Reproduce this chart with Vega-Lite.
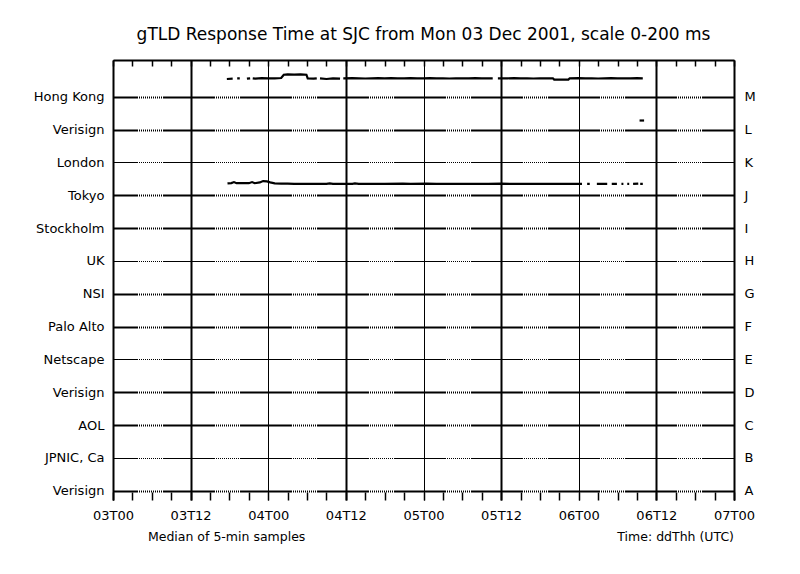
{
  "$schema": "https://vega.github.io/schema/vega-lite/v6.json",
  "width": 621,
  "height": 440,
  "autosize": {"type": "none"},
  "padding": {"left": 113, "top": 60, "right": 66, "bottom": 74},
  "background": "white",
  "title": {"text": "gTLD Response Time at SJC from Mon 03 Dec 2001, scale 0-200 ms", "font": "DejaVu Sans", "fontSize": 17, "fontWeight": "normal", "color": "black", "anchor": "middle", "baseline": "alphabetic", "offset": 2},
  "config": {
    "view": {"stroke": null},
    "axis": {"labelFont": "DejaVu Sans", "labelColor": "black", "domainColor": "black", "tickColor": "black", "gridColor": "black", "gridOpacity": 1}
  },
  "data": {"values": [
    {"code": "M", "hour": 17.6, "ms": 108}, {"code": "M", "hour": 18.5, "ms": 110}, {"code": "M", "hour": 18.9, "ms": null},
    {"code": "M", "hour": 19.2, "ms": 112}, {"code": "M", "hour": 19.6, "ms": 112}, {"code": "M", "hour": 20.0, "ms": null},
    {"code": "M", "hour": 20.7, "ms": 110}, {"code": "M", "hour": 21.2, "ms": 112}, {"code": "M", "hour": 21.4, "ms": null},
    {"code": "M", "hour": 21.6, "ms": 112}, {"code": "M", "hour": 22, "ms": 110}, {"code": "M", "hour": 23, "ms": 113},
    {"code": "M", "hour": 24, "ms": 112}, {"code": "M", "hour": 25, "ms": 112}, {"code": "M", "hour": 26, "ms": 114},
    {"code": "M", "hour": 26.4, "ms": 134}, {"code": "M", "hour": 27, "ms": 136}, {"code": "M", "hour": 28, "ms": 135},
    {"code": "M", "hour": 29, "ms": 136}, {"code": "M", "hour": 29.9, "ms": 134}, {"code": "M", "hour": 30.1, "ms": 112},
    {"code": "M", "hour": 31, "ms": 110}, {"code": "M", "hour": 31.5, "ms": 112}, {"code": "M", "hour": 31.8, "ms": null},
    {"code": "M", "hour": 32, "ms": 112}, {"code": "M", "hour": 33, "ms": 108}, {"code": "M", "hour": 34, "ms": 112},
    {"code": "M", "hour": 35.1, "ms": 110}, {"code": "M", "hour": 35.3, "ms": null}, {"code": "M", "hour": 35.6, "ms": 112},
    {"code": "M", "hour": 37, "ms": 113}, {"code": "M", "hour": 38, "ms": 112}, {"code": "M", "hour": 39, "ms": 111},
    {"code": "M", "hour": 40, "ms": 112}, {"code": "M", "hour": 41, "ms": 113}, {"code": "M", "hour": 42, "ms": 112},
    {"code": "M", "hour": 43, "ms": 113}, {"code": "M", "hour": 44, "ms": 112}, {"code": "M", "hour": 45, "ms": 112},
    {"code": "M", "hour": 46, "ms": 113}, {"code": "M", "hour": 47, "ms": 112}, {"code": "M", "hour": 48, "ms": 112},
    {"code": "M", "hour": 49, "ms": 113}, {"code": "M", "hour": 50, "ms": 112}, {"code": "M", "hour": 51, "ms": 112},
    {"code": "M", "hour": 52, "ms": 111}, {"code": "M", "hour": 53, "ms": 112}, {"code": "M", "hour": 54, "ms": 112},
    {"code": "M", "hour": 55, "ms": 112}, {"code": "M", "hour": 56, "ms": 113}, {"code": "M", "hour": 57, "ms": 112},
    {"code": "M", "hour": 58.7, "ms": 112}, {"code": "M", "hour": 59.0, "ms": null}, {"code": "M", "hour": 59.5, "ms": 112},
    {"code": "M", "hour": 61, "ms": 112}, {"code": "M", "hour": 62, "ms": 113}, {"code": "M", "hour": 63, "ms": 112},
    {"code": "M", "hour": 64, "ms": 112}, {"code": "M", "hour": 65, "ms": 111}, {"code": "M", "hour": 66, "ms": 112},
    {"code": "M", "hour": 67, "ms": 112}, {"code": "M", "hour": 68, "ms": 112}, {"code": "M", "hour": 68.2, "ms": 104},
    {"code": "M", "hour": 70.4, "ms": 104}, {"code": "M", "hour": 70.6, "ms": 112}, {"code": "M", "hour": 72, "ms": 113},
    {"code": "M", "hour": 73, "ms": 112}, {"code": "M", "hour": 74, "ms": 112}, {"code": "M", "hour": 75, "ms": 111},
    {"code": "M", "hour": 76, "ms": 112}, {"code": "M", "hour": 77, "ms": 113}, {"code": "M", "hour": 78, "ms": 112},
    {"code": "M", "hour": 79, "ms": 112}, {"code": "M", "hour": 80, "ms": 112}, {"code": "M", "hour": 81, "ms": 113},
    {"code": "M", "hour": 81.9, "ms": 112},
    {"code": "L", "hour": 81.4, "ms": 55}, {"code": "L", "hour": 82.1, "ms": 55},
    {"code": "J", "hour": 17.7, "ms": 72}, {"code": "J", "hour": 18.3, "ms": 74}, {"code": "J", "hour": 18.7, "ms": 80},
    {"code": "J", "hour": 19.1, "ms": 73}, {"code": "J", "hour": 20, "ms": 73}, {"code": "J", "hour": 21, "ms": 73},
    {"code": "J", "hour": 21.5, "ms": 80}, {"code": "J", "hour": 21.9, "ms": 73}, {"code": "J", "hour": 22.7, "ms": 78},
    {"code": "J", "hour": 23.2, "ms": 86}, {"code": "J", "hour": 23.8, "ms": 84}, {"code": "J", "hour": 24.3, "ms": 78},
    {"code": "J", "hour": 25, "ms": 72}, {"code": "J", "hour": 26, "ms": 71}, {"code": "J", "hour": 27, "ms": 70},
    {"code": "J", "hour": 28, "ms": 69}, {"code": "J", "hour": 30, "ms": 69}, {"code": "J", "hour": 33, "ms": 69},
    {"code": "J", "hour": 33.5, "ms": 72}, {"code": "J", "hour": 34, "ms": 69}, {"code": "J", "hour": 37, "ms": 69},
    {"code": "J", "hour": 37.4, "ms": 72}, {"code": "J", "hour": 38, "ms": 69}, {"code": "J", "hour": 42, "ms": 69},
    {"code": "J", "hour": 44.8, "ms": 71}, {"code": "J", "hour": 46, "ms": 69}, {"code": "J", "hour": 48.5, "ms": 71},
    {"code": "J", "hour": 50, "ms": 69}, {"code": "J", "hour": 54, "ms": 69}, {"code": "J", "hour": 58, "ms": 69},
    {"code": "J", "hour": 60, "ms": 70}, {"code": "J", "hour": 62, "ms": 69}, {"code": "J", "hour": 66, "ms": 69},
    {"code": "J", "hour": 70, "ms": 69}, {"code": "J", "hour": 71.9, "ms": 69},
    {"code": "J", "hour": 72.5, "ms": 69}, {"code": "J", "hour": 72.9, "ms": null}, {"code": "J", "hour": 73.3, "ms": 69},
    {"code": "J", "hour": 73.7, "ms": 69}, {"code": "J", "hour": 74.2, "ms": null}, {"code": "J", "hour": 74.8, "ms": 69},
    {"code": "J", "hour": 76.4, "ms": 69}, {"code": "J", "hour": 76.8, "ms": null}, {"code": "J", "hour": 77.1, "ms": 69},
    {"code": "J", "hour": 77.9, "ms": 69}, {"code": "J", "hour": 78.3, "ms": null}, {"code": "J", "hour": 78.6, "ms": 69},
    {"code": "J", "hour": 78.9, "ms": 69}, {"code": "J", "hour": 79.2, "ms": null}, {"code": "J", "hour": 79.5, "ms": 69},
    {"code": "J", "hour": 79.8, "ms": 69}, {"code": "J", "hour": 80.1, "ms": null}, {"code": "J", "hour": 80.4, "ms": 69},
    {"code": "J", "hour": 81.2, "ms": 71}, {"code": "J", "hour": 81.35, "ms": null}, {"code": "J", "hour": 81.5, "ms": 69},
    {"code": "J", "hour": 81.9, "ms": 69}
  ]},
  "resolve": {"axis": {"x": "independent", "y": "independent"}},
  "layer": [
    {
      "transform": [{"calculate": "datum.ms == null ? null : indexof('ABCDEFGHIJKLM', datum.code) + datum.ms / 200", "as": "lane"}],
      "mark": {"type": "line", "color": "black", "strokeWidth": 2.2, "strokeCap": "butt"},
      "encoding": {
        "x": {"field": "hour", "type": "quantitative", "scale": {"domain": [0, 96], "nice": false, "zero": false},
          "axis": {"orient": "bottom", "values": [0,3,6,9,12,15,18,21,24,27,30,33,36,39,42,45,48,51,54,57,60,63,66,69,72,75,78,81,84,87,90,93,96],
            "title": null, "domain": false, "ticks": true, "tickSize": -8, "tickWidth": 1.5,
            "labelFontSize": 13, "labelPadding": 17, "labelFlush": false, "labelOverlap": false, "labelBound": false,
            "labelExpr": "datum.value % 12 == 0 ? ('0' + (3 + floor(datum.value / 24)) + 'T' + (datum.value % 24 == 0 ? '00' : '12')) : ''",
            "grid": true,
            "gridOpacity": {"condition": {"test": "datum.value % 12 != 0", "value": 0}, "value": 1},
            "gridWidth": {"condition": {"test": "datum.value % 24 == 12", "value": 2}, "value": 1}}},
        "y": {"field": "lane", "type": "quantitative", "scale": {"domain": [-0.283, 13.118], "nice": false, "zero": false},
          "axis": {"orient": "left", "values": [0,1,2,3,4,5,6,7,8,9,10,11,12], "title": null,
            "domain": true, "domainWidth": 2, "ticks": false, "labelPadding": 9, "labelFontSize": 13,
            "labelExpr": "['Verisign','JPNIC, Ca','AOL','Verisign','Netscape','Palo Alto','NSI','UK','Stockholm','Tokyo','London','Verisign','Hong Kong'][datum.value]",
            "grid": true,
            "gridWidth": {"condition": {"test": "datum.value % 3 == 1", "value": 1}, "value": 2},
            "gridDash": [52,1,1,1,1,1,1,1,1,1,1,1,1,1,1,1,1,1,1,1,1,1,1,1,1,1],
            "gridDashOffset": 27.5}},
        "detail": {"field": "code"}
      }
    },
    {
      "transform": [{"calculate": "datum.ms == null ? null : indexof('ABCDEFGHIJKLM', datum.code) + datum.ms / 200", "as": "lane"}],
      "mark": {"type": "point", "opacity": 0, "size": 0},
      "encoding": {
        "x": {"field": "hour", "type": "quantitative",
          "axis": {"orient": "top", "values": [0,3,6,9,12,15,18,21,24,27,30,33,36,39,42,45,48,51,54,57,60,63,66,69,72,75,78,81,84,87,90,93,96],
            "title": null, "labels": false, "domain": true, "domainWidth": 2, "ticks": true, "tickSize": -6, "tickWidth": 1.5, "grid": false}},
        "y": {"field": "lane", "type": "quantitative",
          "axis": {"orient": "right", "values": [0,1,2,3,4,5,6,7,8,9,10,11,12], "title": null,
            "domain": true, "domainWidth": 2, "ticks": false, "grid": false, "labelPadding": 10, "labelFontSize": 13,
            "labelExpr": "['A','B','C','D','E','F','G','H','I','J','K','L','M'][datum.value]"}}
      }
    },
    {
      "data": {"values": [{}]},
      "mark": {"type": "text", "text": "Median of 5-min samples", "align": "left", "baseline": "middle", "font": "DejaVu Sans", "fontSize": 12.5, "color": "black"},
      "encoding": {
        "x": {"datum": 5.4, "type": "quantitative", "axis": null},
        "y": {"datum": -1.41, "type": "quantitative", "axis": null}
      }
    },
    {
      "data": {"values": [{}]},
      "mark": {"type": "text", "text": "Time: ddThh (UTC)", "align": "right", "baseline": "middle", "font": "DejaVu Sans", "fontSize": 12.5, "color": "black"},
      "encoding": {
        "x": {"datum": 96, "type": "quantitative", "axis": null},
        "y": {"datum": -1.41, "type": "quantitative", "axis": null}
      }
    }
  ]
}
